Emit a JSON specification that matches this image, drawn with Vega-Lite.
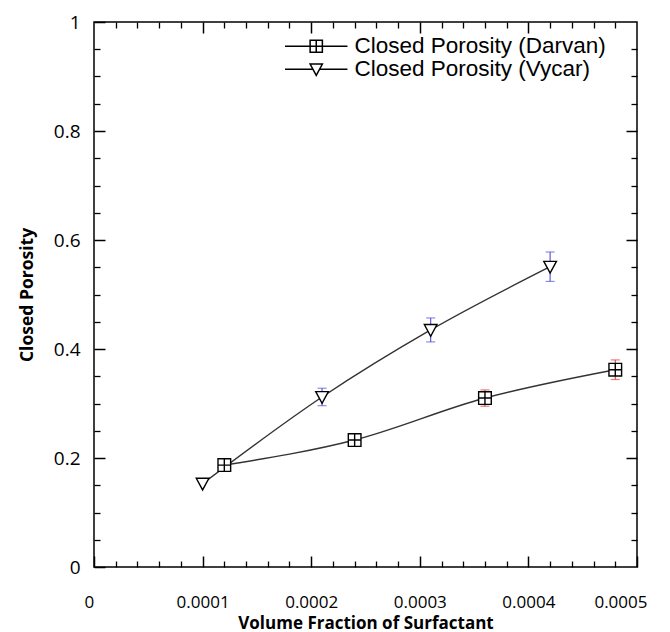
{
  "$schema": "https://vega.github.io/schema/vega-lite/v6.json",
  "width": 543,
  "height": 545,
  "autosize": "none",
  "padding": {"left": 94, "top": 22, "right": 33, "bottom": 65},
  "background": "white",
  "config": {
    "view": {"stroke": "black", "strokeWidth": 1.5},
    "axis": {"grid": false, "labelColor": "black", "titleColor": "black", "labelFont": "Open Sans", "titleFont": "Open Sans"}
  },
  "data": {
    "values": [
      {"series": "Closed Porosity (Darvan)", "x": 0.00012, "y": 0.187, "ylo": null, "yhi": null},
      {"series": "Closed Porosity (Darvan)", "x": 0.00024, "y": 0.233, "ylo": null, "yhi": null},
      {"series": "Closed Porosity (Darvan)", "x": 0.00036, "y": 0.31, "ylo": 0.295, "yhi": 0.325},
      {"series": "Closed Porosity (Darvan)", "x": 0.00048, "y": 0.362, "ylo": 0.344, "yhi": 0.38},
      {"series": "Closed Porosity (Vycar)", "x": 0.0001, "y": 0.153, "ylo": null, "yhi": null},
      {"series": "Closed Porosity (Vycar)", "x": 0.00021, "y": 0.312, "ylo": 0.296, "yhi": 0.328},
      {"series": "Closed Porosity (Vycar)", "x": 0.00031, "y": 0.435, "ylo": 0.413, "yhi": 0.457},
      {"series": "Closed Porosity (Vycar)", "x": 0.00042, "y": 0.551, "ylo": 0.524, "yhi": 0.578}
    ]
  },
  "resolve": {"axis": {"x": "independent", "y": "independent"}, "scale": {"shape": "independent"}},
  "layer": [
    {
      "mark": {"type": "line", "interpolate": "monotone", "stroke": "#333333", "strokeWidth": 1.4},
      "encoding": {
        "x": {"field": "x", "type": "quantitative", "scale": {"domain": [0, 0.0005], "nice": false},
          "axis": {"orient": "bottom", "values": [0, 0.0001, 0.0002, 0.0003, 0.0004, 0.0005], "format": "~g", "tickSize": -11, "tickColor": "black", "tickWidth": 1.5, "domain": false, "labelFontSize": 17, "labelPadding": 38, "labelFlush": true, "labelFlushOffset": 10, "title": "Volume Fraction of Surfactant", "titleFontSize": 17, "titleFontWeight": "bold", "titlePadding": 5}},
        "y": {"field": "y", "type": "quantitative", "scale": {"domain": [0, 1], "nice": false},
          "axis": {"orient": "left", "values": [0, 0.2, 0.4, 0.6, 0.8, 1], "format": "~g", "tickSize": -11, "tickColor": "black", "tickWidth": 1.5, "domain": false, "labelFontSize": 19, "labelPadding": 25, "labelFlush": false, "title": "Closed Porosity", "titleFontSize": 17.5, "titleFontWeight": "bold", "titlePadding": 17}},
        "detail": {"field": "series"}
      }
    },
    {
      "transform": [{"filter": "isValid(datum.ylo)"}],
      "mark": {"type": "rule", "strokeWidth": 1.2},
      "encoding": {
        "x": {"field": "x", "type": "quantitative",
          "axis": {"orient": "top", "values": [0.0001, 0.0002, 0.0003, 0.0004], "tickSize": -11, "tickColor": "black", "tickWidth": 1.5, "domain": false, "labels": false, "title": null}},
        "y": {"field": "ylo", "type": "quantitative",
          "axis": {"orient": "right", "values": [0.2, 0.4, 0.6, 0.8], "tickSize": -11, "tickColor": "black", "tickWidth": 1.5, "domain": false, "labels": false, "title": null}},
        "y2": {"field": "yhi"},
        "color": {"condition": {"test": "datum.series === 'Closed Porosity (Darvan)'", "value": "#e0474c"}, "value": "#5b5bdc"}
      }
    },
    {
      "transform": [{"filter": "isValid(datum.ylo)"}],
      "mark": {"type": "tick", "orient": "horizontal", "size": 9, "thickness": 1.2},
      "encoding": {
        "x": {"field": "x", "type": "quantitative",
          "axis": {"orient": "bottom", "values": [0.00002, 0.00004, 0.00006, 0.00008, 0.00012, 0.00014, 0.00016, 0.00018, 0.00022, 0.00024, 0.00026, 0.00028, 0.00032, 0.00034, 0.00036, 0.00038, 0.00042, 0.00044, 0.00046, 0.00048], "tickSize": -6, "tickColor": "black", "tickWidth": 1.3, "domain": false, "labels": false, "title": null}},
        "y": {"field": "ylo", "type": "quantitative",
          "axis": {"orient": "left", "values": [0.05, 0.1, 0.15, 0.25, 0.3, 0.35, 0.45, 0.5, 0.55, 0.65, 0.7, 0.75, 0.85, 0.9, 0.95], "tickSize": -6, "tickColor": "black", "tickWidth": 1.3, "domain": false, "labels": false, "title": null}},
        "color": {"condition": {"test": "datum.series === 'Closed Porosity (Darvan)'", "value": "#e0474c"}, "value": "#5b5bdc"}
      }
    },
    {
      "transform": [{"filter": "isValid(datum.yhi)"}],
      "mark": {"type": "tick", "orient": "horizontal", "size": 9, "thickness": 1.2},
      "encoding": {
        "x": {"field": "x", "type": "quantitative",
          "axis": {"orient": "top", "values": [0.00002, 0.00004, 0.00006, 0.00008, 0.00012, 0.00014, 0.00016, 0.00018, 0.00022, 0.00024, 0.00026, 0.00028, 0.00032, 0.00034, 0.00036, 0.00038, 0.00042, 0.00044, 0.00046, 0.00048], "tickSize": -6, "tickColor": "black", "tickWidth": 1.3, "domain": false, "labels": false, "title": null}},
        "y": {"field": "yhi", "type": "quantitative",
          "axis": {"orient": "right", "values": [0.05, 0.1, 0.15, 0.25, 0.3, 0.35, 0.45, 0.5, 0.55, 0.65, 0.7, 0.75, 0.85, 0.9, 0.95], "tickSize": -6, "tickColor": "black", "tickWidth": 1.3, "domain": false, "labels": false, "title": null}},
        "color": {"condition": {"test": "datum.series === 'Closed Porosity (Darvan)'", "value": "#e0474c"}, "value": "#5b5bdc"}
      }
    },
    {
      "mark": {"type": "point", "filled": false, "fill": "white", "fillOpacity": 1, "stroke": "black", "strokeWidth": 1.4, "opacity": 1, "size": 160},
      "encoding": {
        "x": {"field": "x", "type": "quantitative", "axis": null},
        "y": {"field": "y", "type": "quantitative", "axis": null},
        "shape": {"field": "series", "type": "nominal",
          "scale": {"domain": ["Closed Porosity (Darvan)", "Closed Porosity (Vycar)"], "range": ["M-1,-1H1V1H-1Z M0,-1V1 M-1,0H1", "M-1,-0.85L1,-0.85L0,1Z"]},
          "legend": null}
      }
    },
    {
      "transform": [{"filter": "datum.x < 0"}],
      "mark": {"type": "point", "filled": false, "fill": "white", "fillOpacity": 1, "stroke": "black", "strokeWidth": 1.3, "opacity": 1, "size": 150},
      "encoding": {
        "shape": {"field": "series", "type": "nominal",
          "scale": {"domain": ["Closed Porosity (Darvan)", "Closed Porosity (Vycar)"], "range": ["M-5.1,0H-1 M1,0H5.1 M-1,-1H1V1H-1Z M0,-1V1 M-1,0H1", "M-5.1,0H-0.55 M0.55,0H5.1 M-1,-0.85L1,-0.85L0,1Z"]},
          "legend": {"orient": "none", "legendX": 211, "legendY": 13, "title": null, "labelFont": "Liberation Sans", "labelFontSize": 22.5, "labelLimit": 0, "labelColor": "black", "symbolSize": 150, "labelOffset": 27, "rowPadding": 0,
            "encode": {"symbols": {"update": {"stroke": {"value": "black"}, "fill": {"value": "white"}, "strokeWidth": {"value": 1.3}, "opacity": {"value": 1}}}}}
        }
      }
    }
  ]
}
